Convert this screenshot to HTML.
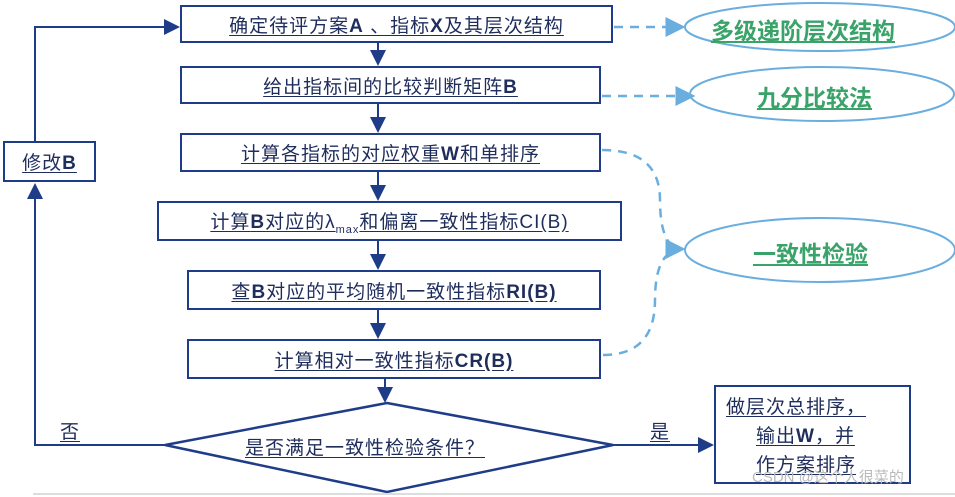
<!DOCTYPE html>
<html><head><meta charset="utf-8"><style>
body{margin:0;width:955px;height:497px;background:#fff;position:relative;overflow:hidden;font-family:"Liberation Sans","Noto Sans CJK SC",sans-serif}
.b{position:absolute;border:2.5px solid #1f3c88;box-sizing:border-box;display:flex;align-items:center;justify-content:center;background:#fff}
.t{color:#1f2d5c;font-size:19px;text-decoration:underline;text-underline-offset:3px;letter-spacing:1px;white-space:nowrap}
.g{position:absolute;color:#3aa36a;font-size:23px;font-weight:bold;text-decoration:underline;white-space:nowrap}
b{font-family:"Liberation Sans",sans-serif}
</style></head><body>
<svg width="955" height="497" style="position:absolute;left:0;top:0">
<defs>
<marker id="a" markerWidth="8" markerHeight="8" refX="7" refY="4" orient="auto"><path d="M0,0 L8,4 L0,8 z" fill="#1f3c88"/></marker>
<marker id="c" markerWidth="8" markerHeight="8" refX="7" refY="4" orient="auto"><path d="M0,0 L8,4 L0,8 z" fill="#6aaee0"/></marker>
</defs>
<g stroke="#1f3c88" stroke-width="2" fill="none">
<line x1="378" y1="42" x2="378" y2="64" marker-end="url(#a)"/>
<line x1="378" y1="103" x2="378" y2="131" marker-end="url(#a)"/>
<line x1="378" y1="172" x2="378" y2="199" marker-end="url(#a)"/>
<line x1="378" y1="241" x2="378" y2="268" marker-end="url(#a)"/>
<line x1="378" y1="310" x2="378" y2="337" marker-end="url(#a)"/>
<line x1="385" y1="378" x2="385" y2="401" marker-end="url(#a)"/>
<polyline points="165,445 35,445 35,185" marker-end="url(#a)"/>
<polyline points="35,141 35,27 178,27" marker-end="url(#a)"/>
<line x1="613" y1="445" x2="712" y2="445" marker-end="url(#a)"/>
<polygon points="387,403 613,445 387,492 165,445" stroke-width="2.5"/>
</g>
<g stroke="#6aaee0" stroke-width="2.5" fill="none" stroke-dasharray="9,7">
<line x1="614" y1="27" x2="683" y2="27" marker-end="url(#c)"/>
<line x1="602" y1="96" x2="693" y2="96" marker-end="url(#c)"/>
<path d="M602,150 Q660,150 660,200 Q660,249 683,249"/>
<path d="M603,355 Q655,355 655,300 Q655,249 683,249" marker-end="url(#c)"/>
</g>
<g stroke="#6aaee0" stroke-width="2" fill="none">
<ellipse cx="820" cy="27" rx="135" ry="24"/>
<ellipse cx="822" cy="94" rx="132" ry="27"/>
<ellipse cx="820" cy="250" rx="135" ry="32"/>
</g>
<line x1="33" y1="494" x2="955" y2="494" stroke="#ddd" stroke-width="2"/>
</svg>
<div class="b" style="left:180px;top:5px;width:433px;height:38px"><span class="t">确定待评方案<b>A</b> 、指标<b>X</b>及其层次结构</span></div>
<div class="b" style="left:180px;top:66px;width:421px;height:38px"><span class="t">给出指标间的比较判断矩阵<b>B</b></span></div>
<div class="b" style="left:180px;top:133px;width:421px;height:39px"><span class="t">计算各指标的对应权重<b>W</b>和单排序</span></div>
<div class="b" style="left:157px;top:201px;width:465px;height:40px"><span class="t">计算<b>B</b>对应的λ<sub style="font-size:11px">max</sub>和偏离一致性指标CI(B)</span></div>
<div class="b" style="left:187px;top:270px;width:414px;height:40px"><span class="t">查<b>B</b>对应的平均随机一致性指标<b>RI(B)</b></span></div>
<div class="b" style="left:187px;top:339px;width:414px;height:40px"><span class="t">计算相对一致性指标<b>CR(B)</b></span></div>
<div class="b" style="left:3px;top:141px;width:93px;height:41px"><span class="t">修改<b>B</b></span></div>
<div class="b" style="left:714px;top:385px;width:197px;height:99px;display:block;padding:6px 0 0 10px"><div class="t" style="line-height:29px">做层次总排序，</div><div class="t" style="line-height:29px;padding-left:30px">输出<b>W</b>，并</div><div class="t" style="line-height:29px;padding-left:30px">作方案排序</div></div>
<div class="t" style="position:absolute;left:245px;top:433px">是否满足一致性检验条件？</div>
<div class="t" style="position:absolute;left:60px;top:417px">否</div>
<div class="t" style="position:absolute;left:650px;top:417px">是</div>
<div class="g" style="left:711px;top:12px">多级递阶层次结构</div>
<div class="g" style="left:757px;top:79px">九分比较法</div>
<div class="g" style="left:753px;top:235px">一致性检验</div>
<div style="position:absolute;left:752px;top:466px;color:#bbb;font-size:15px">CSDN @这个人很菜的</div>
</body></html>
